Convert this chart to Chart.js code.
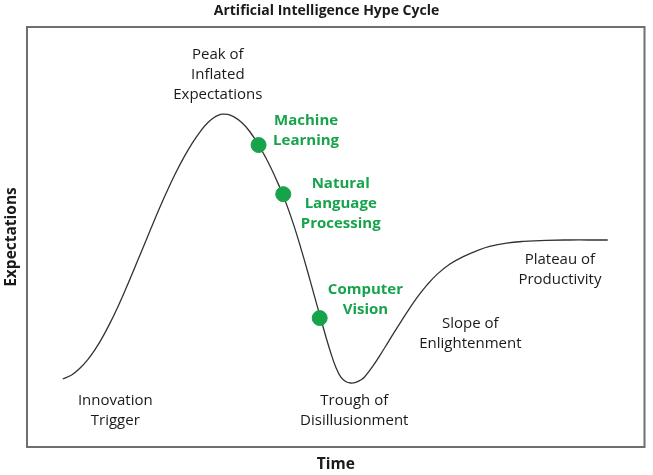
<!DOCTYPE html>
<html>
<head>
<meta charset="utf-8">
<script src="https://cdn.jsdelivr.net/npm/chart.js@4.4.1/dist/chart.umd.min.js"></script>
<style>
  html, body { margin: 0; padding: 0; background: #ffffff; }
  #wrap { width: 653px; height: 475px; }
</style>
</head>
<body>
<div id="wrap"><canvas id="c" width="653" height="475"></canvas></div>
<script>
// ---- Data (abstract units: time 0-100, expectations 0-100) ----
const curveTime = [5.79, 7.23, 8.52, 9.81, 10.93, 12.06, 13.34, 14.63, 15.92, 17.36, 18.65, 20.10, 21.38, 22.67, 23.95, 25.40, 26.69, 28.14, 29.26, 30.23, 31.03, 31.67, 32.48, 33.44, 34.73, 36.01, 37.46, 38.59, 39.55, 40.51, 41.48, 42.44, 43.41, 44.37, 45.50, 46.46, 47.59, 48.39, 49.20, 50.00, 50.80, 51.61, 52.41, 53.22, 54.02, 54.66, 55.95, 57.23, 58.52, 59.97, 61.58, 63.18, 64.79, 66.40, 68.49, 70.74, 72.83, 74.92, 77.65, 80.39, 84.08, 87.78, 90.99, 94.05];
const curveExpectation = [16.19, 17.15, 18.67, 20.76, 23.00, 25.67, 29.19, 33.10, 37.38, 42.40, 46.98, 52.12, 56.60, 60.88, 64.88, 68.95, 72.19, 75.29, 77.19, 78.40, 79.00, 79.24, 79.17, 78.67, 77.33, 75.24, 72.02, 69.10, 66.31, 63.24, 59.88, 56.10, 51.88, 47.24, 41.48, 36.40, 30.48, 26.31, 22.38, 19.05, 16.67, 15.60, 15.24, 15.36, 15.95, 16.67, 19.14, 22.00, 25.05, 28.48, 32.17, 35.62, 38.60, 41.10, 43.57, 45.40, 46.71, 47.74, 48.55, 48.95, 49.21, 49.29, 49.29, 49.29];

const techNames = [["Machine", "Learning"], ["Natural", "Language", "Processing"], ["Computer", "Vision"]];
const techTime = [37.5, 41.5, 47.4];
const techExpectation = [71.9, 60.2, 30.7];

const phaseNames = [["Innovation", "Trigger"], ["Peak of", "Inflated", "Expectations"], ["Trough of", "Disillusionment"], ["Slope of", "Enlightenment"], ["Plateau of", "Productivity"]];

const chartTitle = "Artificial Intelligence Hype Cycle";
const xTitle = "Time";
const yTitle = "Expectations";

// ---- Layout of annotation text (data units, centre of first line) ----
const techLabelPos = [[45.2, 77.6], [50.8, 62.6], [54.8, 37.4]];
const phaseLabelPos = [[14.3, 10.95], [30.9, 93.3], [53.0, 10.95], [71.8, 29.3], [86.3, 44.5]];

const GREEN = "#17a34c";
const FONT = "'Open Sans', 'DejaVu Sans', sans-serif";

const decor = {
  id: 'decor',
  afterDraw(chart) {
    const ctx = chart.ctx;
    const a = chart.chartArea;
    const xs = chart.scales.x, ys = chart.scales.y;
    ctx.save();
    // frame
    ctx.strokeStyle = "#6f6f6f";
    ctx.lineWidth = 2;
    ctx.strokeRect(a.left, a.top, a.right - a.left, a.bottom - a.top);
    ctx.textAlign = "center";
    ctx.textBaseline = "middle";
    // title
    ctx.fillStyle = "#1a1a1a";
    ctx.font = "bold 14px " + FONT;
    ctx.fillText(chartTitle, chart.width / 2, 11);
    // axis titles
    ctx.font = "bold 15.5px " + FONT;
    ctx.fillText(xTitle, (a.left + a.right) / 2, 465);
    ctx.save();
    ctx.translate(12, (a.top + a.bottom) / 2);
    ctx.rotate(-Math.PI / 2);
    ctx.fillText(yTitle, 0, 0);
    ctx.restore();
    // phase labels
    ctx.font = "15px " + FONT;
    ctx.fillStyle = "#1a1a1a";
    phaseNames.forEach((lines, i) => {
      const px = xs.getPixelForValue(phaseLabelPos[i][0]);
      const py = ys.getPixelForValue(phaseLabelPos[i][1]);
      lines.forEach((t, j) => ctx.fillText(t, px, py + j * 20));
    });
    // technology labels
    ctx.font = "bold 15px " + FONT;
    ctx.fillStyle = GREEN;
    techNames.forEach((lines, i) => {
      const px = xs.getPixelForValue(techLabelPos[i][0]);
      const py = ys.getPixelForValue(techLabelPos[i][1]);
      lines.forEach((t, j) => ctx.fillText(t, px, py + j * 20));
    });
    ctx.restore();
  }
};

new Chart(document.getElementById('c'), {
  type: 'scatter',
  data: {
    datasets: [
      {
        label: 'Technologies',
        data: techTime.map((x, i) => ({ x: x, y: techExpectation[i] })),
        backgroundColor: GREEN,
        borderColor: GREEN,
        pointRadius: 7.5,
        pointHoverRadius: 7.5,
        showLine: false,
        order: 0
      },
      {
        label: 'Hype cycle',
        data: curveTime.map((x, i) => ({ x: x, y: curveExpectation[i] })),
        showLine: true,
        borderColor: '#333333',
        borderWidth: 1.3,
        pointRadius: 0,
        pointHoverRadius: 0,
        tension: 0.4,
        fill: false,
        order: 1
      }
    ]
  },
  options: {
    responsive: false,
    animation: false,
    layout: { padding: { left: 27, top: 27, right: 4, bottom: 28 } },
    plugins: { legend: { display: false }, title: { display: false }, tooltip: { enabled: false } },
    scales: {
      x: { type: 'linear', min: 0, max: 100, display: false },
      y: { type: 'linear', min: 0, max: 100, display: false }
    }
  },
  plugins: [decor]
});
</script>
</body>
</html>
